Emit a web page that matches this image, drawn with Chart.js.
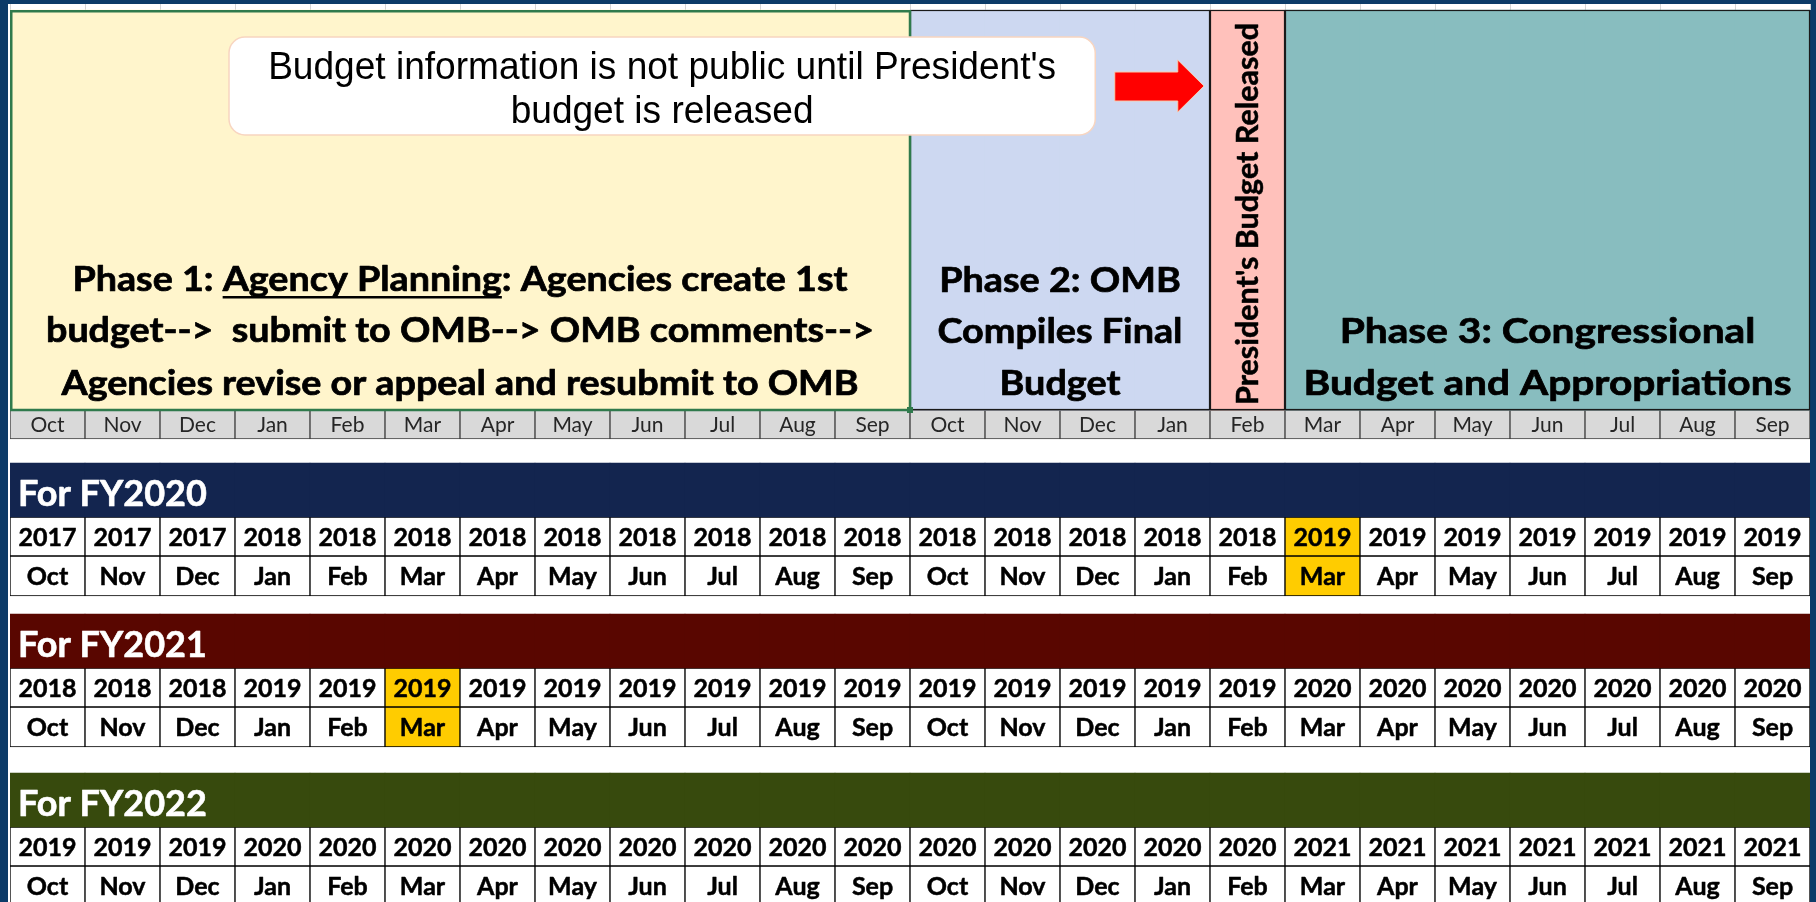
<!DOCTYPE html>
<html>
<head>
<meta charset="utf-8">
<title>Federal budget process timeline</title>
<script src="https://cdn.jsdelivr.net/npm/chart.js@4.4.1/dist/chart.umd.min.js"></script>
<style>
  html, body { margin: 0; padding: 0; background: #0c3b68; overflow: hidden; }
  #wrap { width: 1816px; height: 902px; }
</style>
</head>
<body>
<div id="wrap"><canvas id="timeline" width="1816" height="902"></canvas></div>
<script>
// 24 month budget cycle, Oct of the first year to Sep of the second
var months = ["Oct", "Nov", "Dec", "Jan", "Feb", "Mar", "Apr", "May", "Jun", "Jul", "Aug", "Sep",
              "Oct", "Nov", "Dec", "Jan", "Feb", "Mar", "Apr", "May", "Jun", "Jul", "Aug", "Sep"];

// how many months each phase band covers
var phaseMonths = [12, 4, 1, 7];
var phase1Lines = ["Phase 1: Agency Planning: Agencies create 1st",
                   "budget-->  submit to OMB--> OMB comments-->",
                   "Agencies revise or appeal and resubmit to OMB"];
var phase1Underlined = "Agency Planning";
var phase2Lines = ["Phase 2: OMB", "Compiles Final", "Budget"];
var releaseLabel = "President's Budget Released";
var phase3Lines = ["Phase 3: Congressional", "Budget and Appropriations"];
var calloutLines = ["Budget information is not public until President's", "budget is released"];

// fiscal year rows
var fyLabels = ["For FY2020", "For FY2021", "For FY2022"];
var fy2020Years = [2017, 2017, 2017, 2018, 2018, 2018, 2018, 2018, 2018, 2018, 2018, 2018,
                   2018, 2018, 2018, 2018, 2018, 2019, 2019, 2019, 2019, 2019, 2019, 2019];
var fy2021Years = [2018, 2018, 2018, 2019, 2019, 2019, 2019, 2019, 2019, 2019, 2019, 2019,
                   2019, 2019, 2019, 2019, 2019, 2020, 2020, 2020, 2020, 2020, 2020, 2020];
var fy2022Years = [2019, 2019, 2019, 2020, 2020, 2020, 2020, 2020, 2020, 2020, 2020, 2020,
                   2020, 2020, 2020, 2020, 2020, 2021, 2021, 2021, 2021, 2021, 2021, 2021];
var fyYears = [fy2020Years, fy2021Years, fy2022Years];
// column of the release month that is marked in each row (-1 = none)
var fyMarked = [17, 5, -1];

// styles
var phaseColors = ["#fff5cc", "#cdd8f1", "#ffc1bb", "#88bdbf"];
var fyColors = ["#13254f", "#590600", "#374a0d"];
var markColor = "#ffcc00";
var textFont = "Lato, 'Open Sans', sans-serif";
var calloutFont = "'Liberation Sans', Arial, sans-serif";

// row layout, in sheet pixels (y axis runs 0..902 top to bottom)
var rows = {
    phaseTop: 10, phaseBottom: 410, monthBottom: 439,
    fyTop: [463, 614, 773], header: 54, year: 39, month: 40
};

var phaseColorByMonth = [];
phaseMonths.forEach(function (n, p) {
    for (var i = 0; i < n; i++) phaseColorByMonth.push(phaseColors[p]);
});

function span(a, b) {
    return months.map(function () { return [a, b]; });
}

var datasets = [];
datasets.push({ label: "phases", data: span(rows.phaseTop, rows.phaseBottom),
    backgroundColor: phaseColorByMonth, borderWidth: 0 });
datasets.push({ label: "months", data: span(rows.phaseBottom, rows.monthBottom),
    backgroundColor: "#d9d9d9", borderColor: "#3f3f3f", borderWidth: 1 });
fyLabels.forEach(function (lbl, f) {
    var top = rows.fyTop[f];
    var cellColors = months.map(function (m, i) { return i === fyMarked[f] ? markColor : "#ffffff"; });
    datasets.push({ label: lbl, data: span(top, top + rows.header),
        backgroundColor: fyColors[f], borderWidth: 0 });
    datasets.push({ label: lbl + " year", data: span(top + rows.header, top + rows.header + rows.year),
        backgroundColor: cellColors, borderColor: "#000000", borderWidth: 1 });
    datasets.push({ label: lbl + " month",
        data: span(top + rows.header + rows.year, top + rows.header + rows.year + rows.month),
        backgroundColor: cellColors, borderColor: "#000000", borderWidth: 1 });
});

// text with a hairline stroke, to get close to the heavy Excel rendering
function heavyText(ctx, t, px, py, stroke) {
    ctx.fillText(t, px, py);
    if (stroke) {
        ctx.lineWidth = stroke;
        ctx.strokeStyle = ctx.fillStyle;
        ctx.lineJoin = "round";
        ctx.strokeText(t, px, py);
    }
}

function textBlock(ctx, lines, cx, ys, size, family, weight, widest, color, stroke) {
    ctx.font = weight + " " + size + "px " + family;
    var maxW = 0;
    lines.forEach(function (t) { maxW = Math.max(maxW, ctx.measureText(t).width); });
    var sx = widest / maxW;
    lines.forEach(function (t, k) {
        ctx.save();
        ctx.fillStyle = color;
        ctx.textAlign = "center";
        ctx.textBaseline = "alphabetic";
        ctx.translate(cx, ys[k]);
        ctx.scale(sx, 1);
        heavyText(ctx, t, 0, size * 0.36, stroke);
        ctx.restore();
    });
    return sx;
}

var sheetPlugin = {
    id: "sheet",
    beforeDraw: function (chart) {
        var ctx = chart.ctx, x = chart.scales.x, area = chart.chartArea;
        ctx.save();
        ctx.fillStyle = "#ffffff";
        ctx.fillRect(area.left - 2, 4, area.right - area.left + 2, chart.height - 4);
        ctx.strokeStyle = "#d4d4d4";
        ctx.lineWidth = 1;
        for (var i = 0; i <= months.length; i++) {
            var px = Math.round(x.getPixelForValue(i - 0.5)) + 0.5;
            ctx.beginPath(); ctx.moveTo(px, 4); ctx.lineTo(px, rows.phaseTop); ctx.stroke();
        }
        ctx.restore();
    },
    afterDatasetsDraw: function (chart) {
        var ctx = chart.ctx, x = chart.scales.x, y = chart.scales.y;
        var col = function (c) { return x.getPixelForValue(c - 0.5); };
        var mid = function (c0, c1) { return (col(c0) + col(c1)) / 2; };
        var starts = [0];
        phaseMonths.forEach(function (n, p) { starts.push(starts[p] + n); });
        var yT = y.getPixelForValue(rows.phaseTop), yB = y.getPixelForValue(rows.phaseBottom);

        ctx.save();
        // phase outlines
        ctx.strokeStyle = "#1a1a1a";
        ctx.lineWidth = 1.2;
        for (var p = 1; p < phaseMonths.length; p++) {
            ctx.strokeRect(col(starts[p]) + 0.5, yT + 0.5, col(starts[p + 1]) - col(starts[p]) - 1, yB - yT - 1);
        }
        ctx.strokeStyle = "#2f7a4c";
        ctx.lineWidth = 2.5;
        ctx.strokeRect(col(0) + 1.25, yT + 1.25, col(starts[1]) - col(0) - 1.25, yB - yT - 1.25);
        ctx.fillStyle = "#2f7a4c";
        ctx.fillRect(col(starts[1]) - 3, yB - 3, 6, 6);

        // phase texts
        var pSize = 34;
        var s1 = textBlock(ctx, phase1Lines, mid(0, starts[1]), [279, 330, 383].map(y.getPixelForValue, y),
            pSize, textFont, "bold", 828, "#000000", 0.7);
        ctx.font = "bold " + pSize + "px " + textFont;
        var w1 = ctx.measureText(phase1Lines[0]).width * s1;
        var pre = phase1Lines[0].indexOf(phase1Underlined);
        var ux = mid(0, starts[1]) - w1 / 2 + ctx.measureText(phase1Lines[0].slice(0, pre)).width * s1;
        var uw = ctx.measureText(phase1Underlined).width * s1;
        ctx.fillStyle = "#000000";
        ctx.fillRect(ux, y.getPixelForValue(279) + 17, uw, 2.5);

        textBlock(ctx, phase2Lines, mid(starts[1], starts[2]), [280, 331, 383].map(y.getPixelForValue, y),
            pSize, textFont, "bold", 245, "#000000", 0.7);
        textBlock(ctx, phase3Lines, mid(starts[3], starts[4]), [331, 383].map(y.getPixelForValue, y),
            pSize, textFont, "bold", 488, "#000000", 0.7);

        // vertical release label
        ctx.save();
        var vSize = 30;
        ctx.font = "bold " + vSize + "px " + textFont;
        var vs = 382 / ctx.measureText(releaseLabel).width;
        ctx.translate(mid(starts[2], starts[3]), y.getPixelForValue(214));
        ctx.rotate(-Math.PI / 2);
        ctx.scale(vs, 1);
        ctx.fillStyle = "#000000";
        ctx.textAlign = "center";
        ctx.textBaseline = "alphabetic";
        heavyText(ctx, releaseLabel, 0, vSize * 0.36, 0.5);
        ctx.restore();

        // callout box
        var bx0 = col(2.92), bx1 = col(14.47), by0 = y.getPixelForValue(37), by1 = y.getPixelForValue(135);
        ctx.beginPath();
        ctx.roundRect(bx0, by0, bx1 - bx0, by1 - by0, 16);
        ctx.fillStyle = "#ffffff";
        ctx.fill();
        ctx.strokeStyle = "#f8d5c0";
        ctx.lineWidth = 1.5;
        ctx.stroke();
        textBlock(ctx, calloutLines, (bx0 + bx1) / 2, [65, 109].map(y.getPixelForValue, y),
            38, calloutFont, "normal", 788, "#000000", 0);

        // red arrow towards the release column
        var ax0 = col(14.73), ax1 = col(15.57), ax2 = col(15.92);
        ctx.beginPath();
        ctx.moveTo(ax0, y.getPixelForValue(72));
        ctx.lineTo(ax1, y.getPixelForValue(72));
        ctx.lineTo(ax1, y.getPixelForValue(60));
        ctx.lineTo(ax2, y.getPixelForValue(86));
        ctx.lineTo(ax1, y.getPixelForValue(112));
        ctx.lineTo(ax1, y.getPixelForValue(101));
        ctx.lineTo(ax0, y.getPixelForValue(101));
        ctx.closePath();
        ctx.fillStyle = "#ff0000";
        ctx.fill();
        ctx.strokeStyle = "#f8cbad";
        ctx.lineWidth = 1;
        ctx.stroke();

        // month header row
        ctx.textAlign = "center";
        ctx.textBaseline = "alphabetic";
        ctx.font = "21px " + textFont;
        ctx.fillStyle = "#262626";
        var hc = y.getPixelForValue((rows.phaseBottom + rows.monthBottom) / 2);
        months.forEach(function (m, i) { ctx.fillText(m, x.getPixelForValue(i), hc + 21 * 0.36); });

        // fiscal year blocks
        fyLabels.forEach(function (lbl, f) {
            var top = rows.fyTop[f];
            ctx.font = "bold 36px " + textFont;
            ctx.fillStyle = "#ffffff";
            ctx.textAlign = "left";
            heavyText(ctx, lbl, col(0) + 8, y.getPixelForValue(top + 30) + 36 * 0.36, 0.6);
            ctx.textAlign = "center";
            ctx.font = "bold 25px " + textFont;
            ctx.fillStyle = "#000000";
            var yc = y.getPixelForValue(top + rows.header + rows.year / 2);
            var mc = y.getPixelForValue(top + rows.header + rows.year + rows.month / 2);
            months.forEach(function (m, i) {
                heavyText(ctx, String(fyYears[f][i]), x.getPixelForValue(i), yc + 25 * 0.36, 0.5);
                heavyText(ctx, m, x.getPixelForValue(i), mc + 25 * 0.36, 0.5);
            });
        });
        ctx.restore();
    }
};

window.onload = function () {
    var ctx = document.getElementById("timeline").getContext("2d");
    var chart = new Chart(ctx, {
        type: "bar",
        data: { labels: months, datasets: datasets },
        options: {
            responsive: false,
            animation: false,
            layout: { padding: { left: 10, right: 6, top: 0, bottom: 0 } },
            datasets: {
                bar: { grouped: false, barPercentage: 1, categoryPercentage: 1, borderSkipped: false }
            },
            plugins: {
                legend: { display: false },
                tooltip: { enabled: false },
                title: { display: false }
            },
            scales: {
                x: { type: "category", display: false, offset: true },
                y: { type: "linear", display: false, min: 0, max: 902, reverse: true }
            }
        },
        plugins: [sheetPlugin]
    });
};
</script>
</body>
</html>
